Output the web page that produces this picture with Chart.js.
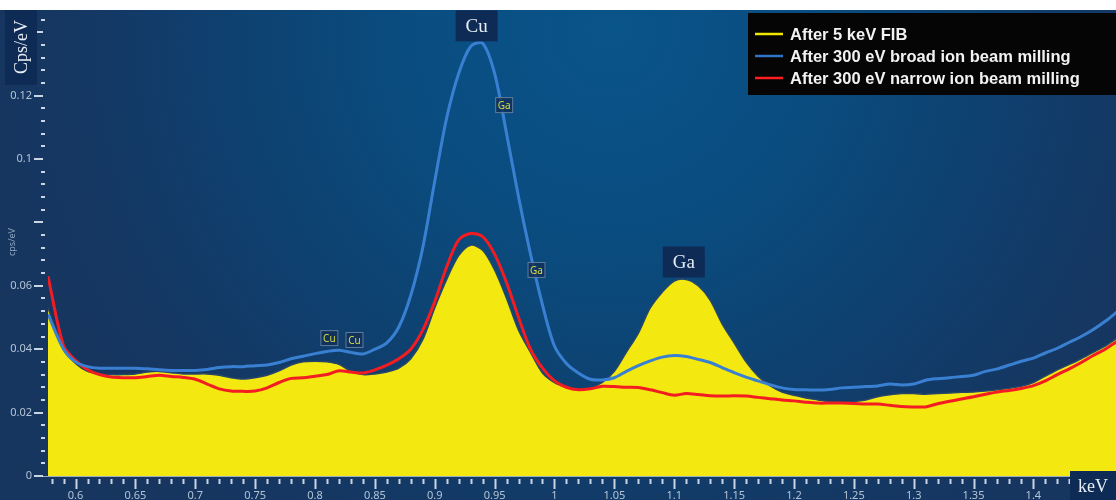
<!DOCTYPE html>
<html>
<head>
<meta charset="utf-8">
<script src="https://cdn.jsdelivr.net/npm/chart.js@4.4.1/dist/chart.umd.min.js"></script>
<style>
  body { margin: 0; background: #fff; }
  #wrap { width: 1116px; height: 500px; }
</style>
</head>
<body>
<div id="wrap"><canvas id="eds" width="1116" height="500"></canvas></div>
<script>
// energy axis (keV)
const energy = [0.577, 0.59,
  0.60, 0.61, 0.62, 0.63, 0.64, 0.65, 0.66, 0.67, 0.68, 0.69,
  0.70, 0.71, 0.72, 0.73, 0.74, 0.75, 0.76, 0.77, 0.78, 0.79,
  0.80, 0.81, 0.82, 0.83, 0.84, 0.85, 0.86, 0.87, 0.88, 0.89,
  0.90, 0.91, 0.92, 0.93, 0.94, 0.95, 0.96, 0.97, 0.98, 0.99,
  1.00, 1.01, 1.02, 1.03, 1.04, 1.05, 1.06, 1.07, 1.08, 1.09,
  1.10, 1.11, 1.12, 1.13, 1.14, 1.15, 1.16, 1.17, 1.18, 1.19,
  1.20, 1.21, 1.22, 1.23, 1.24, 1.25, 1.26, 1.27, 1.28, 1.29,
  1.30, 1.31, 1.32, 1.33, 1.34, 1.35, 1.36, 1.37, 1.38, 1.39,
  1.40, 1.41, 1.42, 1.43, 1.44, 1.45, 1.46, 1.47];

// cps/eV
const fib5keV = [0.053, 0.040,
  0.0355, 0.033, 0.0322, 0.032, 0.032, 0.0322, 0.0328, 0.033, 0.0326, 0.0322,
  0.0322, 0.0322, 0.0318, 0.031, 0.0306, 0.031, 0.0318, 0.0332, 0.035, 0.036,
  0.0362, 0.036, 0.0352, 0.033, 0.032, 0.0322, 0.0328, 0.034, 0.037, 0.043,
  0.053, 0.062, 0.0695, 0.0728, 0.0712, 0.065, 0.056, 0.046, 0.039, 0.0325,
  0.0295, 0.028, 0.0272, 0.0278, 0.0295, 0.033, 0.039, 0.045, 0.053, 0.058,
  0.0615, 0.062, 0.060, 0.0555, 0.048, 0.042, 0.036, 0.0315, 0.0285, 0.0265,
  0.0255, 0.0246, 0.024, 0.0234, 0.0233, 0.0235, 0.024, 0.025, 0.0256, 0.026,
  0.026, 0.0258, 0.026, 0.0262, 0.0264, 0.0265, 0.0268, 0.0272, 0.0277, 0.0283,
  0.0295, 0.0315, 0.0335, 0.0352, 0.037, 0.039, 0.041, 0.0435];

const broad300 = [0.051, 0.040,
  0.036, 0.0345, 0.034, 0.034, 0.034, 0.034, 0.0338, 0.0335, 0.0333, 0.0333,
  0.0333, 0.0336, 0.0342, 0.0345, 0.0345, 0.0348, 0.035, 0.0358, 0.037, 0.0378,
  0.0386, 0.0393, 0.0397, 0.039, 0.0385, 0.040, 0.042, 0.047, 0.057, 0.072,
  0.093, 0.113, 0.127, 0.1355, 0.1365, 0.127, 0.108, 0.088, 0.070, 0.054,
  0.041, 0.0355, 0.0325, 0.0305, 0.0303, 0.031, 0.033, 0.0348, 0.0363, 0.0375,
  0.038, 0.0377, 0.0368, 0.0358, 0.0342, 0.0326, 0.0312, 0.030, 0.0288, 0.0278,
  0.0273, 0.0272, 0.0271, 0.0273, 0.0278, 0.028, 0.0282, 0.0284, 0.029, 0.0287,
  0.029, 0.0302, 0.0307, 0.031, 0.0314, 0.0318, 0.033, 0.0338, 0.035, 0.0362,
  0.0372, 0.0388, 0.0403, 0.0422, 0.044, 0.0462, 0.0488, 0.0518];

const narrow300 = [0.063, 0.041,
  0.0365, 0.0335, 0.032, 0.0312, 0.031, 0.031, 0.0314, 0.0318, 0.0314, 0.0311,
  0.0305, 0.029, 0.0275, 0.0268, 0.0267, 0.0268, 0.0278, 0.0295, 0.0308, 0.031,
  0.0315, 0.032, 0.0332, 0.0328, 0.0325, 0.0335, 0.035, 0.037, 0.040, 0.046,
  0.055, 0.066, 0.0745, 0.0765, 0.0755, 0.070, 0.061, 0.050, 0.040, 0.034,
  0.030, 0.028, 0.0272, 0.0275, 0.0283, 0.0282, 0.028, 0.0279, 0.0272, 0.0263,
  0.0255, 0.026, 0.0257, 0.0253, 0.0252, 0.0253, 0.0252, 0.0248, 0.0244, 0.024,
  0.0237, 0.0233, 0.023, 0.023, 0.023, 0.0229, 0.0227, 0.0227, 0.0223, 0.0219,
  0.0218, 0.0218, 0.0228, 0.0236, 0.0243, 0.025, 0.0258, 0.0265, 0.027, 0.0276,
  0.0285, 0.030, 0.032, 0.0338, 0.0358, 0.038, 0.040, 0.0425];

const seriesNames = ['After 5 keV FIB', 'After 300 eV broad ion beam milling', 'After 300 eV narrow ion beam milling'];

// peak labels (keV, cps/eV)
const peakText = ['Cu', 'Ga'];
const peakEnergy = [0.935, 1.108];
const peakValue = [0.142, 0.0675];

// small element markers along the broad-beam curve
const markerText = ['Cu', 'Cu', 'Ga', 'Ga'];
const markerEnergy = [0.812, 0.833, 0.958, 0.985];
const markerValue = [0.0435, 0.0429, 0.117, 0.065];

const pts = arr => energy.map((e, i) => ({ x: e, y: arr[i] }));

const backdrop = {
  id: 'backdrop',
  beforeDraw(chart) {
    const ctx = chart.ctx;
    ctx.save();
    ctx.fillStyle = '#163660';
    ctx.fillRect(0, 10, chart.width, chart.height - 10);
    const g = ctx.createRadialGradient(610, 30, 0, 610, 30, 640);
    g.addColorStop(0, '#09548a');
    g.addColorStop(0.3, '#0a4d80');
    g.addColorStop(0.5, '#0c4575');
    g.addColorStop(0.7, '#113c6a');
    g.addColorStop(1, 'rgba(22,54,96,0)');
    ctx.fillStyle = g;
    ctx.fillRect(0, 10, chart.width, chart.height - 10);
    ctx.restore();
  }
};

function tagBox(ctx, cx, cy, w, h, text, font, color, fill) {
  ctx.fillStyle = fill;
  ctx.fillRect(cx - w / 2, cy - h / 2, w, h);
  ctx.font = font;
  ctx.fillStyle = color;
  ctx.textAlign = 'center';
  ctx.textBaseline = 'middle';
  ctx.fillText(text, cx, cy + 1);
}

const overlay = {
  id: 'overlay',
  afterDraw(chart) {
    const ctx = chart.ctx;
    const xs = chart.scales.x, ys = chart.scales.y;
    const area = chart.chartArea;
    ctx.save();

    // baseline
    ctx.strokeStyle = 'rgba(190,205,222,0.8)';
    ctx.lineWidth = 1;
    ctx.beginPath();
    ctx.moveTo(40, area.bottom + 0.5);
    ctx.lineTo(area.right, area.bottom + 0.5);
    ctx.stroke();

    // tick marks
    ctx.strokeStyle = '#c9d5e2';
    ctx.lineWidth = 2;
    for (let i = 58; i <= 146; i++) {
      const px = Math.round(xs.getPixelForValue(i / 100)) + 0.5;
      const major = i % 5 === 0;
      ctx.beginPath();
      ctx.moveTo(px, area.bottom + 3);
      ctx.lineTo(px, area.bottom + (major ? 13 : 8));
      ctx.stroke();
    }
    for (let i = 0; i <= 36; i++) {
      const py = Math.round(ys.getPixelForValue(i * 0.004));
      const major = i % 5 === 0;
      ctx.beginPath();
      ctx.moveTo(major ? 34 : 41, py);
      ctx.lineTo(major ? 43 : 45, py);
      ctx.stroke();
    }

    // axis title boxes
    ctx.fillStyle = '#0e2b55';
    ctx.fillRect(5, 10, 32, 75);
    ctx.save();
    ctx.translate(22, 47);
    ctx.rotate(-Math.PI / 2);
    ctx.font = '18px "Liberation Serif", serif';
    ctx.fillStyle = '#e8eef5';
    ctx.textAlign = 'center';
    ctx.textBaseline = 'middle';
    ctx.fillText('Cps/eV', 0, 0);
    ctx.restore();

    ctx.save();
    ctx.translate(12, 242);
    ctx.rotate(-Math.PI / 2);
    ctx.font = '9px "Noto Sans", sans-serif';
    ctx.fillStyle = '#8ea5c1';
    ctx.textAlign = 'center';
    ctx.textBaseline = 'middle';
    ctx.fillText('cps/eV', 0, 0);
    ctx.restore();

    tagBox(ctx, 1093, 486, 46, 30, 'keV', '18px "Liberation Serif", serif', '#e8eef5', '#0e2b55');

    // peak labels
    peakText.forEach((t, i) => {
      tagBox(ctx, xs.getPixelForValue(peakEnergy[i]), ys.getPixelForValue(peakValue[i]), 42, 31, t,
        '19px "Liberation Serif", serif', '#e6edf5', '#0e2b55');
    });

    // small markers
    markerText.forEach((t, i) => {
      const cx = xs.getPixelForValue(markerEnergy[i]);
      const cy = ys.getPixelForValue(markerValue[i]);
      ctx.fillStyle = 'rgba(16,48,88,0.85)';
      ctx.strokeStyle = 'rgba(150,175,205,0.6)';
      ctx.lineWidth = 1;
      ctx.fillRect(cx - 9, cy - 8, 18, 16);
      ctx.strokeRect(cx - 9 + 0.5, cy - 8 + 0.5, 17, 15);
      ctx.font = '10px "Noto Sans", sans-serif';
      ctx.fillStyle = '#d8da48';
      ctx.textAlign = 'center';
      ctx.textBaseline = 'middle';
      ctx.fillText(t, cx, cy + 1);
    });

    // legend
    ctx.fillStyle = '#050505';
    ctx.fillRect(748, 13, 368, 82);
    const legendY = [34, 56, 78];
    const legendColors = ['#f1e600', '#2f73c4', '#ff1e1e'];
    seriesNames.forEach((name, i) => {
      ctx.strokeStyle = legendColors[i];
      ctx.lineWidth = 2.5;
      ctx.beginPath();
      ctx.moveTo(755, legendY[i]);
      ctx.lineTo(783, legendY[i]);
      ctx.stroke();
      ctx.font = 'bold 16.5px "Liberation Sans", Arial, sans-serif';
      ctx.fillStyle = '#f2f2f2';
      ctx.textAlign = 'left';
      ctx.textBaseline = 'middle';
      ctx.fillText(name, 790, legendY[i] + 1);
    });

    ctx.restore();
  }
};

new Chart(document.getElementById('eds'), {
  type: 'line',
  data: {
    datasets: [{
      label: seriesNames[0],
      data: pts(fib5keV),
      fill: 'origin',
      backgroundColor: '#f3e80f',
      borderColor: '#27466a',
      borderWidth: 1.5,
      pointRadius: 0,
      tension: 0.3,
      order: 3
    }, {
      label: seriesNames[1],
      data: pts(broad300),
      borderColor: '#3a80d2',
      borderWidth: 3,
      pointRadius: 0,
      tension: 0.3,
      order: 1
    }, {
      label: seriesNames[2],
      data: pts(narrow300),
      borderColor: '#f21c22',
      borderWidth: 3,
      pointRadius: 0,
      tension: 0.3,
      order: 2
    }]
  },
  options: {
    responsive: false,
    animation: false,
    layout: { padding: { top: 10, left: 0, right: 0, bottom: 0 } },
    plugins: { legend: { display: false }, tooltip: { enabled: false } },
    scales: {
      x: {
        type: 'linear',
        min: 0.577,
        max: 1.469,
        grid: { display: false, drawTicks: false },
        border: { display: false },
        afterFit: s => { s.height = 24; s.paddingLeft = 0; s.paddingRight = 0; },
        ticks: {
          stepSize: 0.05,
          includeBounds: false,
          autoSkip: false,
          maxRotation: 0,
          padding: 13,
          color: '#b3c3d5',
          font: { family: '"Noto Sans", sans-serif', size: 11 },
          callback: v => {
            const r = Math.round(v * 100) / 100;
            if (r < 0.6 || r > 1.41) return '';
            return String(r);
          }
        }
      },
      y: {
        min: 0,
        max: 0.147,
        grid: { display: false, drawTicks: false },
        border: { display: false },
        afterFit: s => { s.width = 48; s.paddingTop = 0; s.paddingBottom = 0; },
        ticks: {
          stepSize: 0.02,
          includeBounds: false,
          padding: 16,
          color: '#b3c3d5',
          font: { family: '"Noto Sans", sans-serif', size: 11 },
          callback: v => {
            const r = Math.round(v * 100) / 100;
            if (r === 0.08 || r > 0.13) return '';
            return String(r);
          }
        }
      }
    }
  },
  plugins: [backdrop, overlay]
});
</script>
</body>
</html>
